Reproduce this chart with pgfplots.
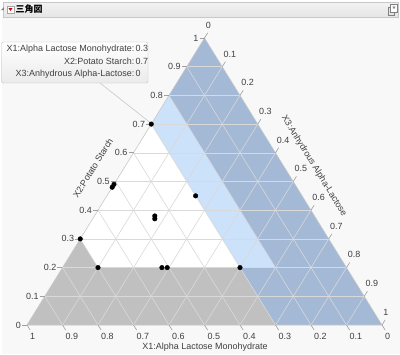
\documentclass[border=0pt]{standalone}
\usepackage{pgfplots}
\pgfplotsset{compat=1.18}
\usepackage{pgfplotstable}
\usepackage{fontspec}
\setmainfont{Liberation Sans}
\newfontfamily\cjk{Noto Sans CJK JP}
\newfontfamily\sym{DejaVu Sans}
\definecolor{dkblue}{RGB}{163,185,214}
\definecolor{ltblue}{RGB}{204,225,250}
\definecolor{rgray}{RGB}{192,192,192}
\definecolor{gridc}{RGB}{217,217,217}
\definecolor{edgec}{RGB}{200,200,200}
\definecolor{tickc}{RGB}{160,160,160}
\definecolor{txt}{RGB}{64,64,64}
\definecolor{bgc}{RGB}{248,248,248}

% data points (X1, X2, X3)
\pgfplotstableread{
X1 X2 X3
0.30 0.70 0.00
0.52 0.48 0.00
0.51 0.49 0.00
0.45 0.38 0.17
0.455 0.37 0.175
0.30 0.45 0.25
0.70 0.30 0.00
0.70 0.20 0.10
0.52 0.20 0.28
0.505 0.20 0.295
0.30 0.20 0.50
}\pts
% shaded constraint regions (ternary vertices)
\pgfplotstableread{
X1 X2 X3
1 0 0
0 1 0
0 0 1
}\tri
\pgfplotstableread{
X1 X2 X3
1 0 0
0.7 0.3 0
0.7 0.2 0.1
0.3 0.2 0.5
0.3 0 0.7
}\grayreg
\pgfplotstableread{
X1 X2 X3
0.3 0.7 0
0.2 0.8 0
0.2 0.2 0.6
0.3 0.2 0.5
}\lightreg
\pgfplotstableread{
X1 X2 X3
0.2 0.8 0
0 1 0
0 0 1
0.3 0 0.7
0.3 0.2 0.5
0.2 0.2 0.6
}\darkreg

\pgfplotsset{tern/.style={anchor=origin, at={(0,0)}, x=355bp, y=287bp,
  xmin=-0.076056, xmax=1.050704, ymin=-0.101045, ymax=1.132404,
  hide axis, clip=false},
  /pgfplots/table/tcoord/.style={x expr=\thisrow{X3}+0.5*\thisrow{X2}, y expr=\thisrow{X2}}}

\newcommand\tp[2]{({355*((#2)+(#1)/2)},{287*(#1)})}
\newcommand\px[2]{({(#1)-27},{325-(#2)})}

\begin{document}
\begin{tikzpicture}[x=1bp,y=1bp,font=\fontsize{9}{11}\selectfont]
% background
\fill[white] \px{0}{0} rectangle \px{400}{354};
\fill[bgc] \px{2}{18} rectangle \px{400}{354};

\begin{axis}[tern]
\addplot[fill=white, draw=none] table[tcoord] {\tri};
\addplot[fill=rgray, draw=none] table[tcoord] {\grayreg};
\addplot[fill=ltblue, draw=none] table[tcoord] {\lightreg};
\addplot[fill=dkblue, draw=none] table[tcoord] {\darkreg};
\end{axis}

% grid
\foreach \k in {1,...,9}{
  \pgfmathsetmacro\a{\k/10}
  \draw[gridc, line width=0.6bp] \tp{\a}{0} -- \tp{\a}{1-\a};
  \draw[gridc, line width=0.6bp] \tp{1-\a}{0} -- \tp{0}{1-\a};
  \draw[gridc, line width=0.6bp] \tp{0}{\a} -- \tp{1-\a}{\a};
}
\draw[edgec, line width=0.6bp] \tp{0}{0} -- \tp{1}{0} -- \tp{0}{1} -- cycle;

% ticks and labels
\foreach \v in {0,0.1,0.2,0.3,0.4,0.5,0.6,0.7,0.8,0.9,1}{
  % left: X2
  \draw[tickc, line width=0.6bp] \tp{\v}{0} -- ++(-5,0);
  \path \tp{\v}{0} ++(-6,0) node[anchor=east, inner sep=0, text=txt] {\v};
  % bottom: X1
  \draw[tickc, line width=0.6bp] \tp{0}{1-\v} -- ++(3.2,-5.1);
  \path \tp{0}{1-\v} ++(3.0,-7.8) node[anchor=north west, inner sep=0, text=txt] {\v};
  % right: X3
  \draw[tickc, line width=0.6bp] \tp{1-\v}{\v} -- ++(3.2,5.1);
  \path \tp{1-\v}{\v} ++(1.2,9.4) node[anchor=south west, inner sep=0, text=txt] {\v};
}

% axis titles
\node[text=txt, rotate=58.3] at \px{93}{168} {X2:Potato Starch};
\node[text=txt, rotate=-58.3] at \px{314}{166} {X3:Anhydrous Alpha-Lactose};
\node[text=txt] at \px{205}{347} {X1:Alpha Lactose Monohydrate};

% header bar
\draw[draw=edgec, top color=white!95!black, bottom color=white!90!black] \px{3}{2} rectangle \px{398}{17};
\fill[gray] \px{1}{10} -- \px{4}{10} -- \px{4}{7} -- cycle;
\draw[draw=gray!70, fill=white] \px{7}{6} rectangle \px{14}{13};
\fill[red!80!black] \px{8.5}{8} -- \px{12.5}{8} -- \px{10.5}{11} -- cycle;
\node[anchor=west, inner sep=0] at \px{15.5}{9.5} {\cjk\bfseries 三角図};
\draw[draw=gray, fill=white!90!black] \px{388}{7} rectangle \px{394}{15};
\draw[draw=gray, fill=white] \px{390.5}{4} rectangle \px{397.5}{12};
\node[inner sep=0, text=gray] at \px{394}{8} {\sym\fontsize{5}{5}\selectfont ★};

% tooltip
\draw[edgec, line width=0.6bp] \px{100}{83} -- \px{152}{124};
\draw[draw=white!75!black, rounded corners=2bp, top color=white, bottom color=white!92!black] \px{1.5}{42} rectangle \px{148}{83};
\node[anchor=base east, inner sep=0, text=txt] at \px{134.5}{51.5} {X1:Alpha Lactose Monohydrate:};
\node[anchor=base west, inner sep=0, text=txt] at \px{135.5}{51.5} {0.3};
\node[anchor=base east, inner sep=0, text=txt] at \px{134.5}{64} {X2:Potato Starch:};
\node[anchor=base west, inner sep=0, text=txt] at \px{135.5}{64} {0.7};
\node[anchor=base east, inner sep=0, text=txt] at \px{134.5}{76.5} {X3:Anhydrous Alpha-Lactose:};
\node[anchor=base west, inner sep=0, text=txt] at \px{135.5}{76.5} {0};

\begin{axis}[tern]
\addplot[only marks, mark=*, mark size=2.3bp, black] table[tcoord] {\pts};
\end{axis}
\end{tikzpicture}
\end{document}
